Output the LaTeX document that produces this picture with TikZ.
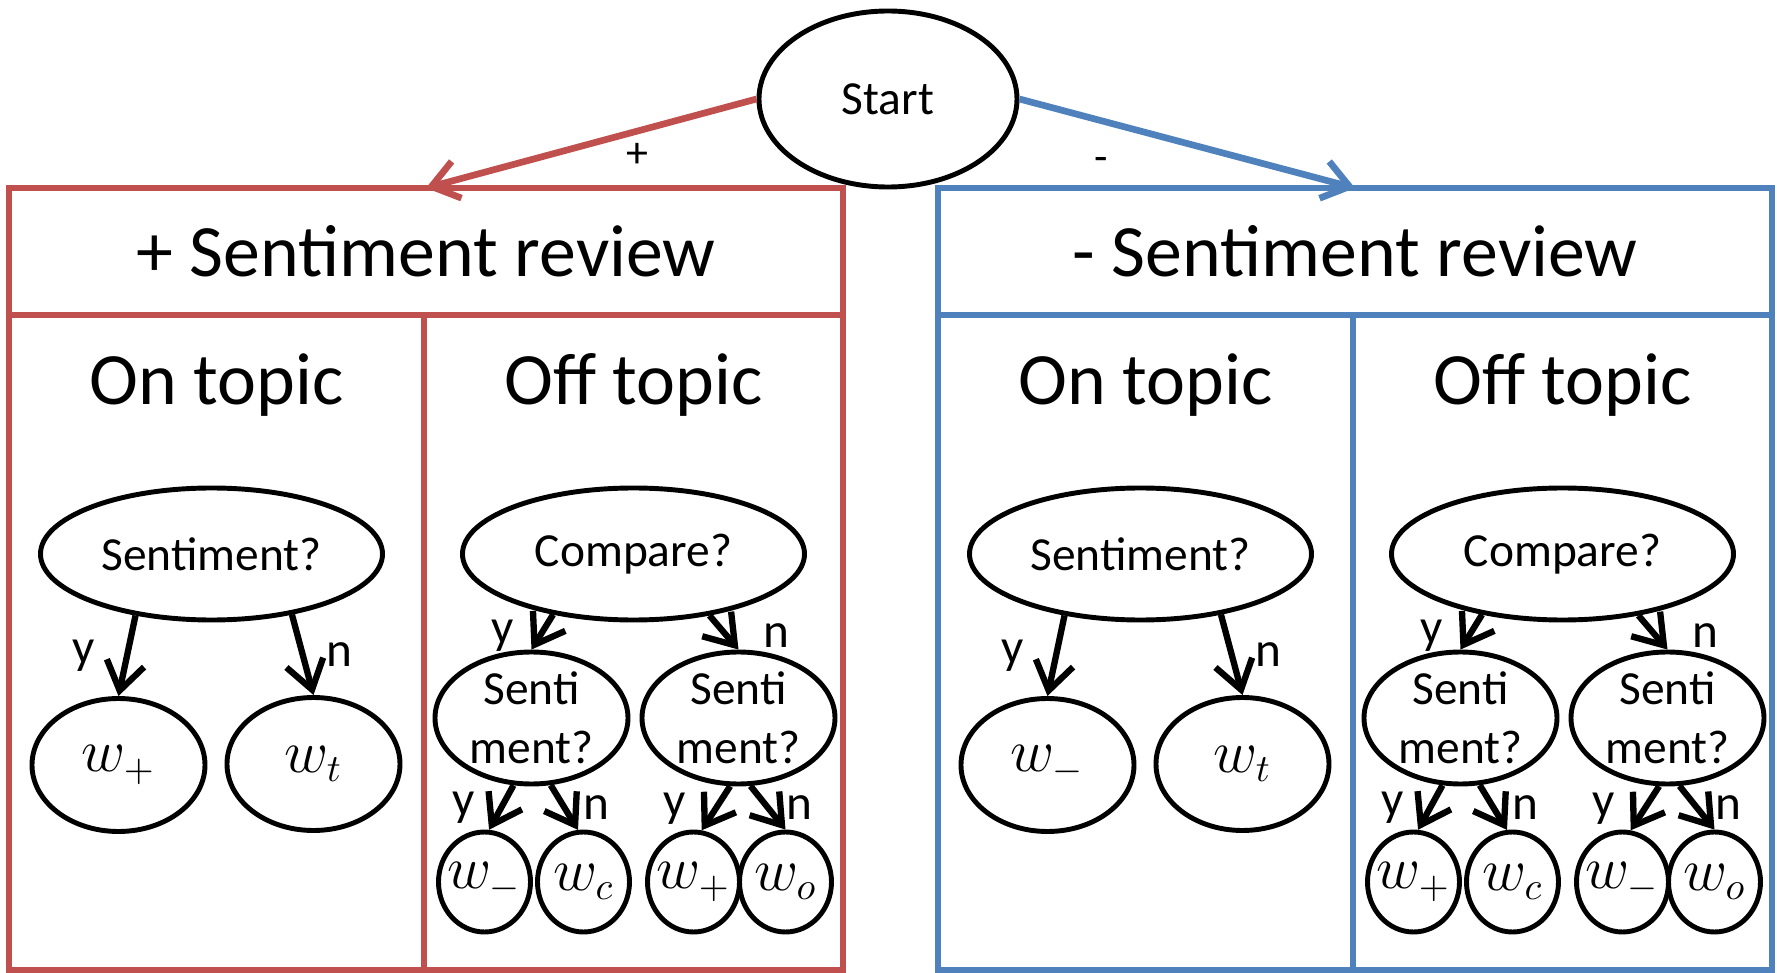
\documentclass[tikz,border=0pt]{standalone}
\usepackage{fontspec}
\setmainfont{Carlito}
\usetikzlibrary{positioning,calc}
\usetikzlibrary{arrows.meta}
\usetikzlibrary{shapes.geometric}
\definecolor{posred}{HTML}{C0504D}
\definecolor{negblue}{HTML}{4F81BD}

\begin{document}
\begin{tikzpicture}[
         panel/.style = {draw, line width=1.5pt, outer sep=0pt, inner sep=0pt},
         head/.style = {panel, minimum width=8.34cm, minimum height=1.27cm,
         font=\fontsize{21}{25}\selectfont},
         topic/.style = {inner sep=0pt, font=\fontsize{21}{25}\selectfont},
         query/.style = {ellipse, draw, line width=1.4pt, inner sep=1pt,
         font=\fontsize{13.5}{16.8}\selectfont},
         bigq/.style = {query, minimum width=3.42cm, minimum height=1.32cm},
         subq/.style = {query, minimum width=1.93cm, minimum height=1.32cm},
         outcome/.style = {query, minimum width=1.73cm, minimum height=1.33cm,
         font=\fontsize{16}{19}\selectfont},
         leaf/.style = {query, inner sep=-2pt, minimum width=0.92cm,
         minimum height=1.0cm, font=\fontsize{16}{19}\selectfont},
         qtext/.style = {align=center, inner sep=0pt,
         font=\fontsize{13.5}{16.8}\selectfont},
         branch/.style = {line width=1.8pt,
         -{Straight Barb[length=2.8mm, width=3.8mm]}},
         sign/.style = {line width=1.9pt,
         -{Straight Barb[length=2.6mm, width=3.8mm]}},
         lab/.style = {inner sep=1pt, text=black,
         font=\fontsize{14}{16}\selectfont}]

   \useasboundingbox (0,0) rectangle (17.77,9.72);

   % root
   \node[query, minimum width=2.58cm, minimum height=1.76cm] (start) at (8.88,8.73) {Start};

   % + sentiment panel
   \node[head, draw=posred] (posh) at (4.26,7.205) {+ Sentiment review};
   \node[panel, draw=posred, minimum width=4.15cm, minimum height=6.55cm,
      below right=0cm and 0cm of posh.south west] (poson) {};
   \node[panel, draw=posred, minimum width=4.19cm, minimum height=6.55cm,
      right=0cm of poson] (posoff) {};
   \node[topic] (posont) at ($(poson.north)+(0,-0.70)$) {On topic};
   \node[topic] (posofft) at ($(posoff.north)+(0,-0.70)$) {Off topic};

   % - sentiment panel
   \node[head, draw=negblue, right=0.95cm of posh] (negh) {- Sentiment review};
   \node[panel, draw=negblue, minimum width=4.15cm, minimum height=6.55cm,
      below right=0cm and 0cm of negh.south west] (negon) {};
   \node[panel, draw=negblue, minimum width=4.19cm, minimum height=6.55cm,
      right=0cm of negon] (negoff) {};
   \node[topic] (negont) at ($(negon.north)+(0,-0.70)$) {On topic};
   \node[topic] (negofft) at ($(negoff.north)+(0,-0.70)$) {Off topic};

   \draw[sign, posred] (start.west) -- (posh.north)
      node[lab, pos=0.36, below=1.5pt, font=\fontsize{12.5}{15}\selectfont] (plus) {+};
   \draw[sign, negblue] (start.east) -- (negh.north)
      node[lab, pos=0.245, below=0.3cm, font=\fontsize{12.5}{15}\selectfont] (minus) {-};

   % + on topic
   \node[bigq] (ps0) at ($(poson.north)+(-0.05,-2.39)$) {Sentiment?};
   \node[outcome] (pw0) at ($(ps0)+(-0.93,-2.11)$) {$w_{+}$};
   \node[outcome] (pw1) at ($(ps0)+(1.02,-2.10)$) {$w_{t}$};
   \draw[branch] (ps0.219) -- (pw0.north) node[lab, midway, left=0.26cm] (psy) {y};
   \draw[branch] (ps0.323) -- (pw1.north) node[lab, midway, right=0.17cm] (psn) {n};

   % + off topic
   \node[bigq] (pc0) at ($(posoff.north)+(0,-2.39)$) {Compare?};
   \node[subq] (pc1) at ($(pc0)+(-1.02,-1.64)$) {};
   \node[subq] (pc2) at ($(pc0)+(1.05,-1.64)$) {};
   \node[qtext] (pc1t) at (pc1) {Senti\\ment?};
   \node[qtext] (pc2t) at (pc2) {Senti\\ment?};
   \node[leaf] (pl1) at ($(pc1)+(-0.47,-1.64)$) {$w_{-}$};
   \node[leaf] (pl2) at ($(pc1)+(0.52,-1.64)$) {$w_{c}$};
   \node[leaf] (pl3) at ($(pc2)+(-0.45,-1.64)$) {$w_{+}$};
   \node[leaf] (pl4) at ($(pc2)+(0.47,-1.64)$) {$w_{o}$};
   \draw[branch] (pc0.217) -- (pc1.north) node[lab, pos=0.6, left=0.2cm] (pcy) {y};
   \draw[branch] (pc0.321) -- (pc2.north) node[lab, pos=0.6, right=0.3cm] (pcn) {n};
   \draw[branch] (pc1.255) -- (pl1.85) node[lab, midway, left=0.2cm] (pc1y) {y};
   \draw[branch] (pc1.286) -- (pl2.96) node[lab, midway, right=0.12cm] (pc1n) {n};
   \draw[branch] (pc2.263) -- (pl3.81) node[lab, midway, left=0.23cm] (pc2y) {y};
   \draw[branch] (pc2.280) -- (pl4.north) node[lab, midway, right=0.12cm] (pc2n) {n};

   % - on topic
   \node[bigq] (ns0) at ($(negon.north)+(-0.05,-2.39)$) {Sentiment?};
   \node[outcome] (nw0) at ($(ns0)+(-0.93,-2.11)$) {$w_{-}$};
   \node[outcome] (nw1) at ($(ns0)+(1.02,-2.10)$) {$w_{t}$};
   \draw[branch] (ns0.219) -- (nw0.north) node[lab, midway, left=0.26cm] (nsy) {y};
   \draw[branch] (ns0.323) -- (nw1.north) node[lab, midway, right=0.17cm] (nsn) {n};

   % - off topic
   \node[bigq] (nc0) at ($(negoff.north)+(0,-2.39)$) {Compare?};
   \node[subq] (nc1) at ($(nc0)+(-1.02,-1.64)$) {};
   \node[subq] (nc2) at ($(nc0)+(1.05,-1.64)$) {};
   \node[qtext] (nc1t) at (nc1) {Senti\\ment?};
   \node[qtext] (nc2t) at (nc2) {Senti\\ment?};
   \node[leaf] (nl1) at ($(nc1)+(-0.47,-1.64)$) {$w_{+}$};
   \node[leaf] (nl2) at ($(nc1)+(0.52,-1.64)$) {$w_{c}$};
   \node[leaf] (nl3) at ($(nc2)+(-0.45,-1.64)$) {$w_{-}$};
   \node[leaf] (nl4) at ($(nc2)+(0.47,-1.64)$) {$w_{o}$};
   \draw[branch] (nc0.217) -- (nc1.north) node[lab, pos=0.6, left=0.2cm] (ncy) {y};
   \draw[branch] (nc0.321) -- (nc2.north) node[lab, pos=0.6, right=0.3cm] (ncn) {n};
   \draw[branch] (nc1.255) -- (nl1.85) node[lab, midway, left=0.2cm] (nc1y) {y};
   \draw[branch] (nc1.286) -- (nl2.96) node[lab, midway, right=0.12cm] (nc1n) {n};
   \draw[branch] (nc2.263) -- (nl3.81) node[lab, midway, left=0.23cm] (nc2y) {y};
   \draw[branch] (nc2.280) -- (nl4.north) node[lab, midway, right=0.12cm] (nc2n) {n};

\end{tikzpicture}
\end{document}
